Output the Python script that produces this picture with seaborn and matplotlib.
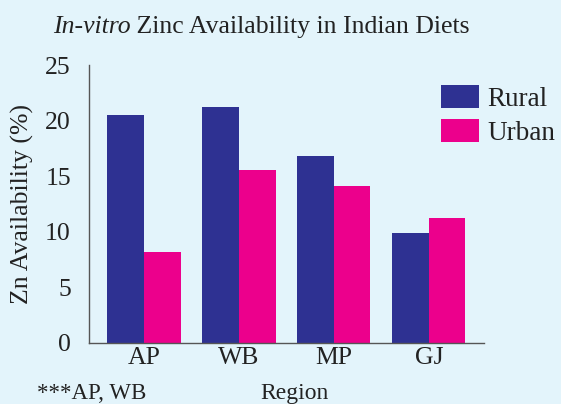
import pandas as pd
import seaborn as sns
import matplotlib.pyplot as plt
from matplotlib.patches import Patch

# Data
regions = ['AP', 'WB', 'MP', 'GJ']
rural = [20.5, 21.2, 16.8, 9.9]
urban = [8.2, 15.6, 14.1, 11.2]

df = pd.DataFrame({
    'Region': regions * 2,
    'Area': ['Rural'] * 4 + ['Urban'] * 4,
    'Value': rural + urban,
})

bg = '#e3f4fb'
colors = {'Rural': '#2e3192', 'Urban': '#ec008c'}
txt = '#222222'

sns.set_style('white')
plt.rcParams['font.family'] = ['Liberation Serif', 'DejaVu Serif']

fig = plt.figure(figsize=(5.61, 4.04), dpi=100, facecolor=bg)
ax = fig.add_axes([0.1586, 0.151, 0.704, 0.688])
ax.set_facecolor(bg)

sns.barplot(data=df, x='Region', y='Value', hue='Area', palette=colors,
            width=0.77, saturation=1, gap=0, linewidth=0, ax=ax, legend=False)

ax.set_ylim(0, 25)
ax.set_xlim(-0.58, 3.58)
ax.set_yticks([0, 5, 10, 15, 20, 25])
ax.tick_params(axis='both', length=0, labelsize=18.5, colors=txt, pad=3)
ax.tick_params(axis='y', pad=13)
ax.set_yticks([0, 25], minor=True)
ax.tick_params(axis='y', which='minor', length=5, color='#555555', direction='out')
ax.set_xticks([3.58], minor=True)
ax.tick_params(axis='x', which='minor', length=6, color='#555555', direction='out')

for s in ['top', 'right']:
    ax.spines[s].set_visible(False)
for s in ['left', 'bottom']:
    ax.spines[s].set_color('#555555')
    ax.spines[s].set_linewidth(1)

ax.set_xlabel('')
ax.set_ylabel('Zn Availability (%)', fontsize=18.5, color=txt, labelpad=8)

fig.text(0.525, 0.0, 'Region', fontsize=17, color=txt, ha='center', va='bottom')
fig.text(0.066, 0.0, '***AP, WB', fontsize=16.5, color=txt, ha='left', va='bottom')

# Title with italic prefix
t1 = fig.text(0.094, 0.905, 'In-vitro', fontsize=18.5, style='italic', color=txt,
              ha='left', va='bottom')
ax.annotate(' Zinc Availability in Indian Diets', xy=(1, 0), xycoords=t1,
            fontsize=18.5, color=txt, ha='left', va='bottom', annotation_clip=False)

handles = [Patch(facecolor=colors[k], edgecolor='none', label=k) for k in ['Rural', 'Urban']]
fig.legend(handles=handles, loc='upper left', bbox_to_anchor=(0.786, 0.79),
           frameon=False, fontsize=19.5, handlelength=1.4, handleheight=0.95,
           handletextpad=0.3, labelspacing=0.25, borderaxespad=0, borderpad=0,
           labelcolor=txt)

fig.savefig('out.png', dpi=100, facecolor=bg)
